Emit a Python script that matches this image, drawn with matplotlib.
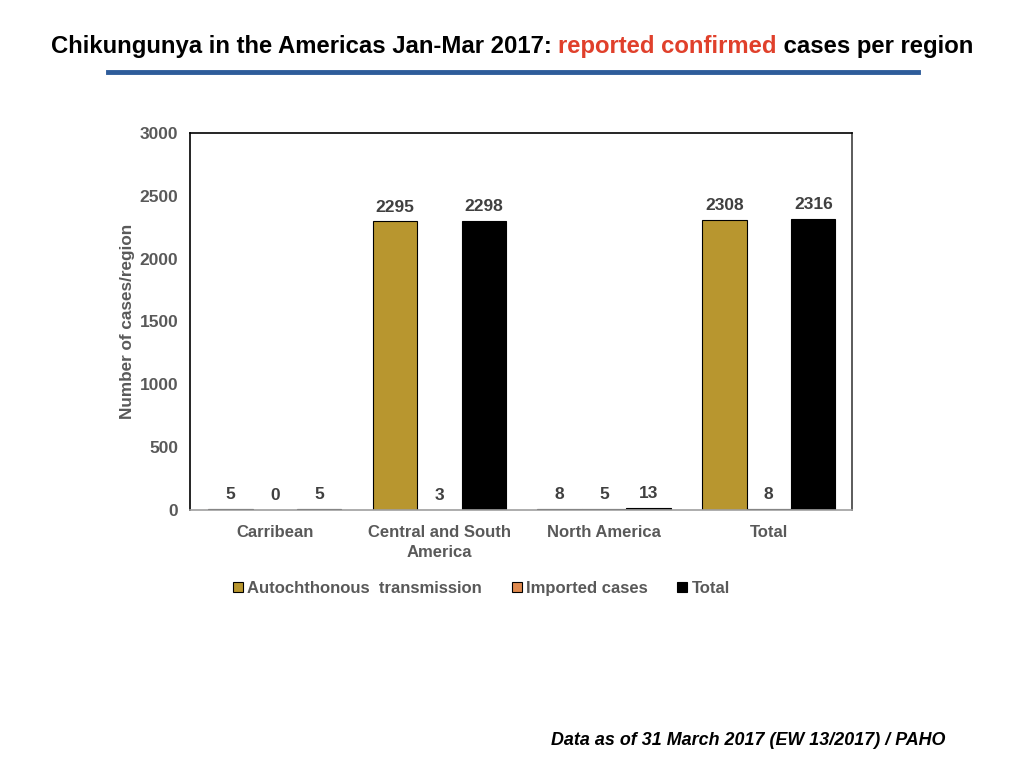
import numpy as np
import matplotlib
matplotlib.use('Agg')
import matplotlib.pyplot as plt

plt.rcParams['font.family'] = ['Liberation Sans', 'DejaVu Sans']

# data
regions = ['Carribean', 'Central and South\nAmerica', 'North America', 'Total']
autochthonous = [5, 2295, 8, 2308]
imported = [0, 3, 5, 8]
total = [5, 2298, 13, 2316]
series_names = ['Autochthonous  transmission', 'Imported cases', 'Total']
series_colors = ['#B8962F', '#E08A4F', '#000000']

grey = '#595959'

fig = plt.figure(figsize=(10.24, 7.68), dpi=100)
ax = fig.add_axes([0.1855, 0.336, 0.6465, 0.491])

x = np.arange(len(regions))
w = 0.27
for i, (vals, name, col) in enumerate(zip([autochthonous, imported, total],
                                          series_names, series_colors)):
    bars = ax.bar(x + (i - 1) * w, vals, w, color=col, edgecolor='black',
                  linewidth=0.8, label=name)
    for b, v in zip(bars, vals):
        ax.annotate(str(v), (b.get_x() + b.get_width() / 2, b.get_height()),
                    xytext=(0, 5), textcoords='offset points', ha='center',
                    va='bottom', fontsize=12.5, fontweight='bold',
                    color='#404040')

ax.set_xlim(-0.515, 3.505)
ax.set_ylim(0, 3000)
ax.set_yticks(range(0, 3001, 500))
ax.set_xticks(x)
ax.set_xticklabels(regions, linespacing=1.4)
ax.tick_params(length=0, labelsize=12.5, labelcolor=grey)
ax.tick_params(axis='x', labelsize=12, pad=11)
ax.tick_params(axis='y', pad=8.5)
for lab in ax.get_xticklabels() + ax.get_yticklabels():
    lab.set_fontweight('bold')
ax.set_ylabel('Number of cases/region', fontsize=12.3, fontweight='bold',
              color=grey, labelpad=3)

for s in ['left', 'top']:
    ax.spines[s].set_color('black')
ax.spines['right'].set_color('#404040')
ax.spines['bottom'].set_color('#A0A0A0')
for s in ax.spines.values():
    s.set_linewidth(1.2)

leg = fig.legend(loc='center', bbox_to_anchor=(0.47, 0.234), ncol=3,
                 frameon=False, fontsize=12, handlelength=0.6,
                 handleheight=0.6, handletextpad=0.25, columnspacing=1.8)
for t in leg.get_texts():
    t.set_color(grey)
    t.set_fontweight('bold')

# title with coloured part
parts = [('Chikungunya in the Americas Jan-Mar 2017: ', 'black'),
         ('reported confirmed', '#E0402B'),
         (' cases per region', 'black')]
fig.canvas.draw()
renderer = fig.canvas.get_renderer()
texts = []
for s, c in parts:
    t = fig.text(0, 0.94, s, fontsize=17.2, fontweight='bold', color=c,
                 va='center', ha='left')
    texts.append(t)
widths = [t.get_window_extent(renderer).width for t in texts]
pos = (fig.bbox.width - sum(widths)) / 2 / fig.bbox.width
for t, wd in zip(texts, widths):
    t.set_x(pos)
    pos += wd / fig.bbox.width

fig.add_artist(plt.Line2D([0.1055, 0.8965], [0.906, 0.906], color='#2E5C9A',
                          linewidth=3.5, transform=fig.transFigure))

fig.text(0.923, 0.036, 'Data as of 31 March 2017 (EW 13/2017) / PAHO',
         ha='right', va='center', fontsize=12.9, fontweight='bold',
         fontstyle='italic', color='black')

fig.savefig('out.png', dpi=100)
